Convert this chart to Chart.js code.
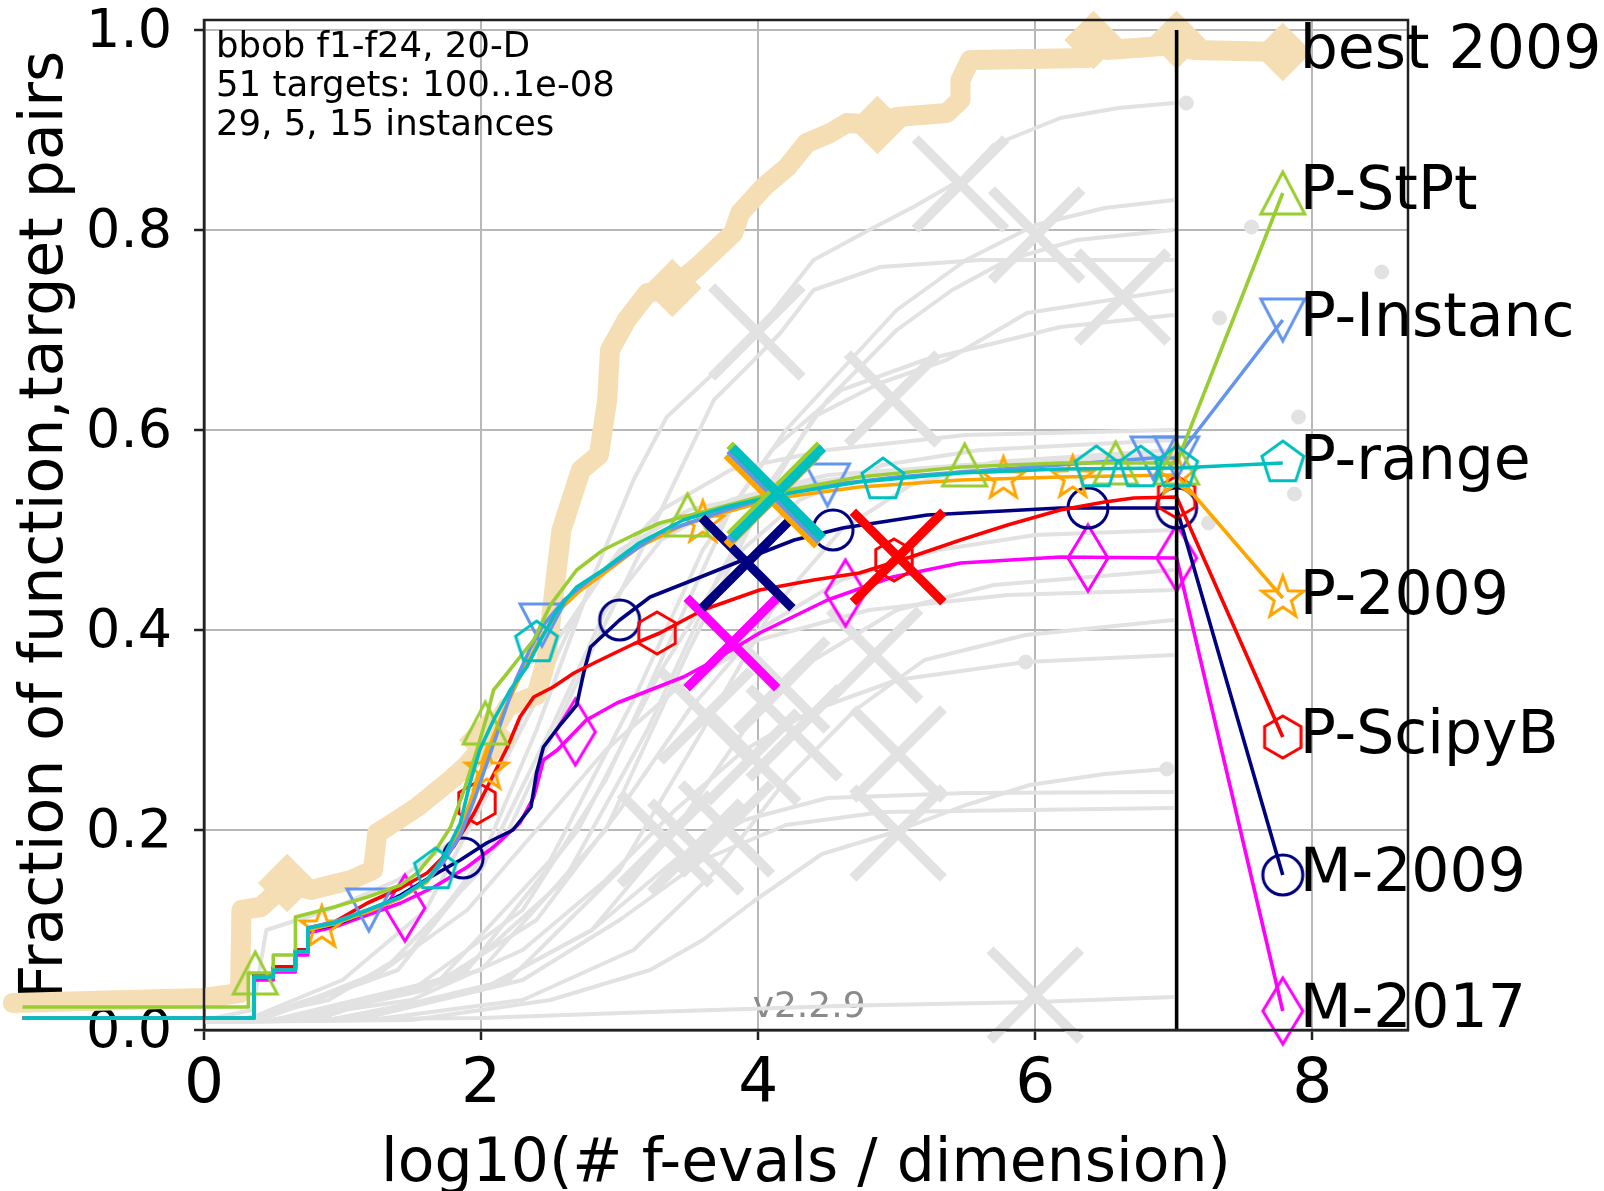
<!DOCTYPE html>
<html>
<head>
<meta charset="utf-8">
<script src="https://cdn.jsdelivr.net/npm/chart.js@4.4.1/dist/chart.umd.min.js"></script>
<style>
  html, body { margin: 0; padding: 0; background: #fff; }
  #wrap { width: 1604px; height: 1191px; position: relative; }
</style>
</head>
<body>
<div id="wrap"><canvas id="ecdf"></canvas></div>
<script>
const FONT = '"DejaVu Sans", sans-serif';

// axes
const xTicks = [0, 2, 4, 6, 8];
const yTicks = [0, 0.2, 0.4, 0.6, 0.8, 1.0];
const xRange = [0, 8.69];
const yRange = [0, 1.01];
const budgetX = 7.02;   // black vertical line
const labelX = 7.786;   // x of the end-of-line labels

const legendNames = ['best 2009', 'P-StPt', 'P-Instanc', 'P-range', 'P-2009', 'P-ScipyB', 'M-2009', 'M-2017'];
const legendY = [0.978, 0.837, 0.71, 0.567, 0.432, 0.293, 0.155, 0.019];
const infoLines = ['bbob f1-f24, 20-D', '51 targets: 100..1e-08', '29, 5, 15 instances'];

// best 2009
const bestX = [-1.38, -1.38, 0.0, 0.26, 0.27, 0.41, 0.6, 0.77, 1.06, 1.22, 1.25, 1.32, 1.54, 1.78, 1.9, 2.05, 2.19, 2.4, 2.47, 2.52, 2.58, 2.72, 2.85, 2.91, 2.93, 3.05, 3.2, 3.38, 3.56, 3.82, 3.87, 4.04, 4.21, 4.35, 4.52, 4.64, 4.86, 5.0, 5.36, 5.46, 5.46, 5.53, 6.38, 6.42, 6.52, 7.02, 7.14];
const bestY = [-0.01, 0.027, 0.032, 0.037, 0.12, 0.123, 0.147, 0.14, 0.15, 0.16, 0.197, 0.203, 0.223, 0.25, 0.265, 0.29, 0.323, 0.335, 0.37, 0.43, 0.5, 0.56, 0.575, 0.63, 0.68, 0.71, 0.737, 0.742, 0.763, 0.797, 0.817, 0.843, 0.863, 0.887, 0.897, 0.907, 0.905, 0.913, 0.917, 0.93, 0.95, 0.97, 0.972, 0.99, 0.98, 0.985, 0.98];
const bestMarkX = [0.6, 2.05, 3.38, 4.86, 6.42, 7.02];
const bestMarkY = [0.147, 0.29, 0.742, 0.905, 0.99, 0.99];

// P-StPt
const stptX = [-1.31, -1.31, 0.32, 0.32, 0.5, 0.5, 0.66, 0.66, 0.94, 1.18, 1.42, 1.54, 1.66, 1.78, 1.87, 1.97, 2.04, 2.09, 2.19, 2.28, 2.38, 2.5, 2.69, 2.88, 3.1, 3.29, 3.65, 4.14, 4.73, 5.46, 6.18, 7.02];
const stptY = [0, 0.023, 0.023, 0.057, 0.057, 0.075, 0.075, 0.113, 0.123, 0.133, 0.145, 0.157, 0.177, 0.203, 0.237, 0.28, 0.313, 0.34, 0.357, 0.373, 0.39, 0.425, 0.46, 0.48, 0.495, 0.507, 0.52, 0.538, 0.553, 0.563, 0.567, 0.567];
const stptMarkX = [0.37, 2.03, 3.49, 5.49, 6.58, 7.02];
const stptMarkY = [0.057, 0.307, 0.515, 0.565, 0.567, 0.567];

// P-Instanc
const instX = [-1.31, -1.31, 0.36, 0.36, 0.5, 0.5, 0.66, 0.66, 0.75, 0.75, 0.94, 1.18, 1.42, 1.61, 1.73, 1.85, 1.95, 2.05, 2.15, 2.25, 2.35, 2.45, 2.6, 2.8, 3.0, 3.29, 3.77, 4.14, 4.5, 5.0, 5.46, 6.18, 6.85, 7.02];
const instY = [0, 0.012, 0.012, 0.053, 0.053, 0.06, 0.06, 0.078, 0.078, 0.102, 0.108, 0.12, 0.133, 0.15, 0.168, 0.195, 0.23, 0.27, 0.31, 0.35, 0.38, 0.405, 0.43, 0.452, 0.47, 0.497, 0.52, 0.535, 0.545, 0.553, 0.558, 0.565, 0.572, 0.572];
const instMarkX = [1.19, 2.44, 4.5, 6.85, 7.02];
const instMarkY = [0.12, 0.405, 0.545, 0.572, 0.572];

// P-range
const rangeX = [-1.31, -1.31, 0.36, 0.36, 0.5, 0.5, 0.66, 0.66, 0.75, 0.75, 0.94, 1.18, 1.42, 1.61, 1.73, 1.85, 1.92, 1.99, 2.09, 2.21, 2.33, 2.43, 2.55, 2.69, 2.88, 3.14, 3.46, 3.77, 4.14, 4.73, 5.46, 6.18, 7.02];
const rangeY = [0, 0.012, 0.012, 0.053, 0.053, 0.06, 0.06, 0.078, 0.078, 0.102, 0.107, 0.12, 0.133, 0.15, 0.173, 0.207, 0.247, 0.28, 0.31, 0.34, 0.363, 0.39, 0.42, 0.443, 0.46, 0.487, 0.51, 0.523, 0.535, 0.548, 0.557, 0.561, 0.562];
const rangeMarkX = [1.67, 2.4, 4.9, 6.44, 6.76, 7.02];
const rangeMarkY = [0.16, 0.387, 0.55, 0.562, 0.562, 0.562];

// P-2009
const p2009X = [-1.31, -1.31, 0.36, 0.36, 0.5, 0.5, 0.66, 0.66, 0.75, 0.75, 0.94, 1.18, 1.42, 1.61, 1.73, 1.85, 1.95, 2.05, 2.15, 2.27, 2.4, 2.55, 2.72, 2.9, 3.14, 3.46, 3.77, 4.14, 4.73, 5.46, 6.18, 7.02];
const p2009Y = [0, 0.012, 0.012, 0.053, 0.053, 0.06, 0.06, 0.078, 0.078, 0.1, 0.106, 0.118, 0.132, 0.148, 0.17, 0.2, 0.24, 0.28, 0.315, 0.35, 0.385, 0.418, 0.44, 0.458, 0.483, 0.505, 0.518, 0.532, 0.543, 0.55, 0.553, 0.555];
const p2009MarkX = [0.85, 2.04, 3.6, 5.77, 6.27, 7.02];
const p2009MarkY = [0.102, 0.26, 0.507, 0.551, 0.552, 0.555];

// P-ScipyB
const scipyX = [-1.31, -1.31, 0.36, 0.36, 0.5, 0.5, 0.66, 0.66, 0.75, 0.75, 0.94, 1.18, 1.42, 1.61, 1.8, 1.95, 2.07, 2.19, 2.28, 2.38, 2.52, 2.67, 2.86, 3.1, 3.29, 3.6, 4.01, 4.4, 4.73, 5.1, 5.46, 5.8, 6.18, 6.5, 6.71, 7.02];
const scipyY = [0, 0.012, 0.012, 0.053, 0.053, 0.063, 0.063, 0.08, 0.08, 0.102, 0.108, 0.127, 0.142, 0.157, 0.183, 0.217, 0.25, 0.283, 0.313, 0.333, 0.343, 0.357, 0.37, 0.386, 0.397, 0.42, 0.44, 0.45, 0.457, 0.473, 0.49, 0.505, 0.52, 0.528, 0.532, 0.533];
const scipyMarkX = [1.97, 3.27, 4.98, 7.02];
const scipyMarkY = [0.227, 0.397, 0.47, 0.533];

// M-2009
const m2009X = [-1.31, -1.31, 0.36, 0.36, 0.5, 0.5, 0.66, 0.66, 0.75, 0.75, 0.94, 1.18, 1.42, 1.66, 1.85, 2.04, 2.23, 2.36, 2.40, 2.45, 2.57, 2.69, 2.74, 2.79, 3.0, 3.22, 3.53, 3.89, 4.26, 4.61, 5.22, 6.18, 7.02];
const m2009Y = [0, 0.012, 0.012, 0.055, 0.055, 0.063, 0.063, 0.08, 0.08, 0.1, 0.105, 0.118, 0.135, 0.155, 0.17, 0.187, 0.2, 0.223, 0.257, 0.283, 0.305, 0.325, 0.357, 0.383, 0.41, 0.433, 0.45, 0.47, 0.49, 0.502, 0.515, 0.522, 0.522];
const m2009MarkX = [1.87, 3.0, 4.54, 6.38, 7.02];
const m2009MarkY = [0.172, 0.41, 0.5, 0.522, 0.522];

// M-2017
const m2017X = [-1.31, -1.31, 0.36, 0.36, 0.5, 0.5, 0.66, 0.66, 0.75, 0.75, 0.94, 1.18, 1.42, 1.66, 1.9, 2.09, 2.28, 2.38, 2.45, 2.55, 2.76, 2.98, 3.22, 3.46, 3.65, 4.01, 4.5, 4.97, 5.46, 6.18, 7.02];
const m2017Y = [0, 0.012, 0.012, 0.05, 0.05, 0.058, 0.058, 0.075, 0.075, 0.097, 0.103, 0.115, 0.127, 0.143, 0.163, 0.183, 0.207, 0.233, 0.27, 0.28, 0.31, 0.327, 0.34, 0.353, 0.367, 0.397, 0.43, 0.453, 0.467, 0.473, 0.472];
const m2017MarkX = [1.45, 2.68, 4.63, 6.38, 7.02];
const m2017MarkY = [0.122, 0.298, 0.437, 0.472, 0.472];

// big crosses (one per algorithm)
const crossX = [3.92, 3.81, 5.01, 4.1, 4.12, 4.12, 4.14];
const crossY = [0.467, 0.387, 0.473, 0.53, 0.535, 0.54, 0.537];

// grey background algorithms
const bg01 = [[0,0.008],[0.3,0.012],[0.9,0.03],[1.5,0.08],[2.0,0.17],[2.4,0.3],[2.8,0.45],[3.1,0.55],[3.34,0.613],[3.68,0.657],[4.0,0.7],[4.4,0.77],[4.8,0.8],[5.12,0.823],[5.46,0.85],[5.7,0.885],[6.18,0.912],[6.6,0.922],[7.0,0.927]];
const bg02 = [[0,0.008],[0.5,0.01],[1.5,0.04],[2.3,0.12],[2.9,0.25],[3.4,0.4],[3.8,0.52],[4.2,0.6],[4.6,0.66],[5.0,0.72],[5.5,0.77],[6.0,0.805],[6.5,0.822],[7.0,0.83]];
const bg03 = [[0,0.008],[0.6,0.01],[1.8,0.05],[2.6,0.15],[3.2,0.3],[3.7,0.45],[4.1,0.55],[4.5,0.63],[5.0,0.7],[5.4,0.74],[5.8,0.77],[6.3,0.79],[7.0,0.8]];
const bg04 = [[0,0.008],[0.4,0.01],[1.4,0.06],[2.2,0.2],[2.8,0.38],[3.3,0.52],[3.68,0.63],[3.92,0.663],[4.16,0.697],[4.4,0.74],[4.88,0.763],[5.6,0.77],[7.0,0.77]];
const bg05 = [[0,0.008],[0.7,0.01],[2.0,0.06],[2.9,0.2],[3.5,0.38],[4.0,0.52],[4.4,0.613],[4.88,0.647],[5.36,0.67],[5.94,0.717],[7.0,0.74]];
const bg06 = [[0,0.008],[0.5,0.01],[1.7,0.05],[2.5,0.17],[3.1,0.33],[3.6,0.48],[4.1,0.58],[4.6,0.64],[5.2,0.67],[5.8,0.69],[6.18,0.703],[7.0,0.715]];
const bg07 = [[0,0.008],[0.3,0.01],[1.0,0.05],[1.6,0.12],[2.1,0.25],[2.5,0.38],[2.9,0.46],[3.3,0.52],[3.8,0.56],[4.5,0.58],[5.5,0.595],[7.0,0.6]];
const bg08 = [[0,0.008],[0.8,0.01],[1.9,0.06],[2.7,0.2],[3.3,0.36],[3.8,0.47],[4.3,0.53],[4.9,0.565],[5.6,0.58],[7.0,0.59]];
const bg09 = [[0,0.008],[1.0,0.01],[2.2,0.05],[3.0,0.16],[3.6,0.3],[4.1,0.42],[4.6,0.5],[5.1,0.545],[5.7,0.568],[7.0,0.58]];
const bg10 = [[0,0.008],[0.4,0.01],[1.3,0.06],[2.0,0.16],[2.5,0.3],[2.9,0.42],[3.3,0.49],[3.8,0.53],[4.5,0.555],[5.5,0.565],[7.0,0.57]];
const bg11 = [[0,0.008],[0.6,0.01],[1.6,0.04],[2.4,0.11],[3.0,0.22],[3.5,0.32],[4.0,0.4],[4.6,0.45],[5.3,0.48],[6.0,0.495],[7.0,0.5]];
const bg12 = [[0,0.008],[0.9,0.01],[2.0,0.04],[2.8,0.1],[3.4,0.2],[3.9,0.3],[4.4,0.37],[5.0,0.42],[5.7,0.445],[7.0,0.46]];
const bg13 = [[0,0.008],[0.3,0.01],[1.2,0.05],[1.9,0.12],[2.4,0.2],[2.9,0.28],[3.4,0.34],[4.0,0.39],[4.8,0.42],[5.8,0.435],[7.0,0.44]];
const bg14 = [[0,0.008],[1.2,0.01],[2.3,0.03],[3.1,0.08],[3.7,0.16],[4.2,0.25],[4.7,0.32],[5.2,0.37],[5.93,0.395],[7.0,0.41]];
const bg15 = [[0,0.008],[0.5,0.01],[1.5,0.03],[2.3,0.08],[2.9,0.15],[3.4,0.22],[3.9,0.28],[4.4,0.32],[5.0,0.35],[5.93,0.368],[7.0,0.375]];
const bg16 = [[0,0.008],[1.5,0.01],[2.5,0.03],[3.22,0.06],[3.6,0.09],[3.96,0.128],[4.46,0.176],[4.96,0.197],[5.5,0.225],[5.96,0.245],[6.5,0.256],[6.95,0.261]];
const bg17 = [[0,0.008],[0.9,0.01],[2.0,0.04],[2.8,0.1],[3.4,0.17],[3.9,0.21],[4.5,0.232],[5.5,0.237],[7.0,0.238]];
const bg18 = [[0,0.008],[1.1,0.01],[2.3,0.05],[3.0,0.11],[3.6,0.17],[4.2,0.205],[4.9,0.218],[7.0,0.222]];
const bg19 = [[0,0.01],[2.0,0.012],[3.22,0.018],[4.71,0.0245],[6.0,0.028],[7.0,0.033]];
const bg20 = [[0,0.01],[0.35,0.02],[0.45,0.1],[0.9,0.12],[1.4,0.15],[1.8,0.19],[2.1,0.25],[2.4,0.33],[2.7,0.42],[3.0,0.48],[3.5,0.52],[4.5,0.55],[5.5,0.565],[7.0,0.575]];
const greyCurves = [bg01, bg02, bg03, bg04, bg05, bg06, bg07, bg08, bg09, bg10, bg11, bg12, bg13, bg14, bg15, bg16, bg17, bg18, bg19, bg20];

const greyCrossX = [5.46, 6.01, 6.63, 3.99, 4.97, 4.84, 3.62, 3.96, 5.01, 5.01, 3.77, 3.33, 6.0, 4.17, 3.55, 4.26];
const greyCrossY = [0.846, 0.795, 0.733, 0.698, 0.631, 0.375, 0.314, 0.273, 0.276, 0.197, 0.201, 0.191, 0.035, 0.345, 0.183, 0.297];
const greyDotX = [7.09, 7.56, 8.5, 7.33, 7.9, 7.87, 7.25, 6.95, 5.93];
const greyDotY = [0.927, 0.803, 0.758, 0.712, 0.613, 0.536, 0.507, 0.261, 0.368];

const GREY = '#e2e2e2';
const WHEAT = '#f5deb3';

function pts(xs, ys) {
  return xs.map((x, i) => ({ x: x, y: ys[i] }));
}

// hollow matplotlib-like markers
function makeMarker(kind, color) {
  const lw = 3, pad = 8;
  let hw = 23, hh = 23;
  if (kind === 'thinDiamond') { hw = 20; hh = 33; }
  const c = document.createElement('canvas');
  c.width = 2 * (hw + pad);
  c.height = 2 * (hh + pad);
  const g = c.getContext('2d');
  g.translate(c.width / 2, c.height / 2);
  g.strokeStyle = color;
  g.lineWidth = lw;
  g.lineJoin = 'miter';
  g.beginPath();
  if (kind === 'circle') {
    g.arc(0, 0, 20, 0, Math.PI * 2);
  } else if (kind === 'triUp') {
    g.moveTo(0, -21); g.lineTo(-22, 21); g.lineTo(22, 21);
  } else if (kind === 'triDown') {
    g.moveTo(0, 21); g.lineTo(-22, -21); g.lineTo(22, -21);
  } else if (kind === 'thinDiamond') {
    g.moveTo(0, -hh); g.lineTo(hw, 0); g.lineTo(0, hh); g.lineTo(-hw, 0);
  } else {
    const n = kind === 'pentagon' ? 5 : kind === 'hexagon' ? 6 : 10;
    for (let k = 0; k < n; k++) {
      const a = -Math.PI / 2 + k * 2 * Math.PI / n;
      const rr = kind === 'star' ? (k % 2 ? 9 : 22) : (kind === 'pentagon' ? 22 : 21);
      g.lineTo(rr * Math.cos(a), rr * Math.sin(a));
    }
  }
  g.closePath();
  g.stroke();
  return c;
}

// drawing order: later entries end up on top
const algos = [
  { xs: m2017X, ys: m2017Y, mx: m2017MarkX, my: m2017MarkY, color: '#ff00ff', marker: 'thinDiamond', leg: 7, cross: 1 },
  { xs: m2009X, ys: m2009Y, mx: m2009MarkX, my: m2009MarkY, color: '#000080', marker: 'circle', leg: 6, cross: 0 },
  { xs: scipyX, ys: scipyY, mx: scipyMarkX, my: scipyMarkY, color: '#ff0000', marker: 'hexagon', leg: 5, cross: 2 },
  { xs: p2009X, ys: p2009Y, mx: p2009MarkX, my: p2009MarkY, color: '#ffa500', marker: 'star', leg: 4, cross: 3 },
  { xs: instX, ys: instY, mx: instMarkX, my: instMarkY, color: '#6495ed', marker: 'triDown', leg: 2, cross: 4 },
  { xs: stptX, ys: stptY, mx: stptMarkX, my: stptMarkY, color: '#9acd32', marker: 'triUp', leg: 1, cross: 5 },
  { xs: rangeX, ys: rangeY, mx: rangeMarkX, my: rangeMarkY, color: '#00bfbf', marker: 'pentagon', leg: 3, cross: 6 }
];

const datasets = [];

greyCurves.forEach(c => {
  datasets.push({
    data: c.map(p => ({ x: p[0], y: p[1] })), showLine: true, borderColor: GREY, borderWidth: 4,
    pointRadius: 0, clip: false, order: 100, borderJoinStyle: 'round'
  });
});
datasets.push({
  data: pts(greyCrossX, greyCrossY), showLine: false, pointStyle: 'crossRot', pointRadius: 64,
  pointBorderColor: GREY, pointBorderWidth: 10, borderColor: GREY, clip: false, order: 95
});
datasets.push({
  data: pts(greyDotX, greyDotY), showLine: false, pointStyle: 'circle', pointRadius: 7,
  pointBackgroundColor: GREY, pointBorderColor: GREY, clip: false, order: 94
});

// best 2009
datasets.push({
  data: pts(bestX.concat([labelX]), bestY.concat([legendY[0]])), showLine: true,
  borderColor: WHEAT, borderWidth: 20, pointRadius: 0, clip: false, order: 90,
  borderJoinStyle: 'round', borderCapStyle: 'round'
});
datasets.push({
  data: pts(bestMarkX.concat([labelX]), bestMarkY.concat([legendY[0]])), showLine: false,
  pointStyle: 'rectRot', pointRadius: 25, pointBackgroundColor: WHEAT, pointBorderColor: WHEAT,
  pointBorderWidth: 6, clip: false, order: 89
});

algos.forEach((a, i) => {
  datasets.push({
    data: pts(a.xs.concat([labelX]), a.ys.concat([legendY[a.leg]])), showLine: true,
    borderColor: a.color, borderWidth: 3.6, pointRadius: 0, clip: false, order: 60 - 2 * i,
    borderJoinStyle: 'round'
  });
  datasets.push({
    data: pts(a.mx.concat([labelX]), a.my.concat([legendY[a.leg]])), showLine: false,
    pointStyle: makeMarker(a.marker, a.color), pointRadius: 20, clip: false, order: 59 - 2 * i
  });
});

algos.forEach((a, i) => {
  datasets.push({
    data: [{ x: crossX[a.cross], y: crossY[a.cross] }], showLine: false, pointStyle: 'crossRot',
    pointRadius: 64, pointBorderColor: a.color, pointBorderWidth: 9, borderColor: a.color,
    clip: false, order: 20 - i
  });
});

// budget line
datasets.push({
  data: [{ x: budgetX, y: 0 }, { x: budgetX, y: 1.0 }], showLine: true, borderColor: '#000',
  borderWidth: 3.6, pointRadius: 0, clip: false, order: 30
});

const decorPlugin = {
  id: 'decor',
  beforeDatasetsDraw(chart) {
    const { ctx, scales } = chart;
    ctx.save();
    ctx.fillStyle = '#8a8a8a';
    ctx.font = '36px ' + FONT;
    ctx.textAlign = 'left';
    ctx.textBaseline = 'alphabetic';
    ctx.fillText('v2.2.9', scales.x.getPixelForValue(3.96), scales.y.getPixelForValue(0.0135));
    ctx.restore();
  },
  afterDatasetsDraw(chart) {
    const { ctx, chartArea, scales } = chart;
    ctx.save();
    ctx.strokeStyle = '#222';
    ctx.lineWidth = 2.5;
    ctx.strokeRect(chartArea.left, chartArea.top, chartArea.right - chartArea.left, chartArea.bottom - chartArea.top);

    ctx.fillStyle = '#000';
    ctx.font = '35.5px ' + FONT;
    ctx.textAlign = 'left';
    ctx.textBaseline = 'alphabetic';
    infoLines.forEach((t, i) => ctx.fillText(t, chartArea.left + 12, chartArea.top + 37 + i * 39));

    ctx.font = '60px ' + FONT;
    ctx.textBaseline = 'middle';
    const lx = scales.x.getPixelForValue(labelX) + 17;
    legendNames.forEach((n, i) => ctx.fillText(n, lx, scales.y.getPixelForValue(legendY[i])));
    ctx.restore();
  }
};

new Chart(document.getElementById('ecdf'), {
  type: 'scatter',
  data: { datasets: datasets },
  options: {
    responsive: true,
    maintainAspectRatio: false,
    devicePixelRatio: 1,
    animation: false,
    events: [],
    layout: { autoPadding: false, padding: { top: 20, right: 196, left: 0, bottom: 0 } },
    plugins: { legend: { display: false }, tooltip: { enabled: false } },
    scales: {
      x: {
        type: 'linear', min: xRange[0], max: xRange[1],
        afterBuildTicks: s => { s.ticks = xTicks.map(v => ({ value: v })); },
        afterFit: s => { s.height = 161; s.paddingLeft = 0; s.paddingRight = 0; },
        ticks: { font: { family: FONT, size: 63 }, color: '#000', padding: 8, maxRotation: 0, autoSkip: false,
                 callback: v => String(v) },
        grid: { color: '#b8b8b8', lineWidth: 2, tickColor: '#222', tickLength: 10, tickWidth: 2.5 },
        border: { color: '#222', width: 2.5 },
        title: { display: true, text: 'log10(# f-evals / dimension)', color: '#000',
                 font: { family: FONT, size: 60, lineHeight: 0.85 }, padding: { top: 0, bottom: 0 } }
      },
      y: {
        type: 'linear', min: yRange[0], max: yRange[1],
        afterBuildTicks: s => { s.ticks = yTicks.map(v => ({ value: v })); },
        afterFit: s => { s.width = 204; s.paddingTop = 0; s.paddingBottom = 0; },
        ticks: { font: { family: FONT, size: 54 }, color: '#000', padding: 22, autoSkip: false, labelOffset: 3,
                 callback: v => v.toFixed(1) },
        grid: { color: '#b8b8b8', lineWidth: 2, tickColor: '#222', tickLength: 10, tickWidth: 2.5 },
        border: { color: '#222', width: 2.5 },
        title: { display: true, text: 'Fraction of function,target pairs', color: '#000',
                 font: { family: FONT, size: 60, lineHeight: 1 }, padding: { top: 16, bottom: 0 } }
      }
    }
  },
  plugins: [decorPlugin]
});
</script>
</body>
</html>
